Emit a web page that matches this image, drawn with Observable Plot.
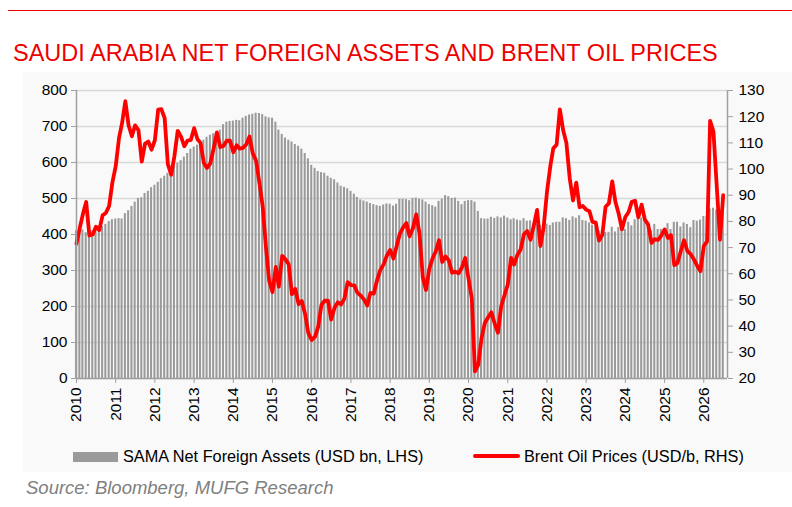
<!DOCTYPE html>
<html><head><meta charset="utf-8">
<script src="https://cdn.jsdelivr.net/npm/d3@7"></script>
<script src="https://cdn.jsdelivr.net/npm/@observablehq/plot@0.6"></script>
<style>
body{margin:0;background:#fff;font-family:"Liberation Sans",Arial,sans-serif;width:792px;height:507px;position:relative;overflow:hidden}
#rule{position:absolute;left:8px;top:10px;width:784px;height:0;border-top:1px solid #ee0000}
#title{position:absolute;left:13px;top:42px;font-size:23.5px;line-height:23.5px;color:#ee0000;white-space:nowrap}
#panel{position:absolute;left:23px;top:72px;width:769px;height:400px;background:#f9f9f9}
#chart{position:absolute;left:0;top:75px}
.lg{position:absolute;font-size:16.3px;line-height:16px;color:#000;white-space:nowrap;top:448px}
.sw{position:absolute}
#source{position:absolute;left:26px;top:479px;font-size:18.5px;line-height:18px;font-style:italic;color:#808080;white-space:nowrap}
</style></head><body>
<div id="rule"></div>
<div id="title">SAUDI ARABIA NET FOREIGN ASSETS AND BRENT OIL PRICES</div>
<div id="panel"></div>
<div id="chart"></div>
<div class="sw" style="left:73px;top:452px;width:45px;height:10px;background:#9a9a9a"></div>
<div class="lg" style="left:123px">SAMA Net Foreign Assets (USD bn, LHS)</div>
<div class="sw" style="left:473px;top:454px;width:47px;height:4px;background:#ff0000;border-radius:2px"></div>
<div class="lg" style="left:524px">Brent Oil Prices (USD/b, RHS)</div>
<div id="source">Source: Bloomberg, MUFG Research</div>
<script>
// Monthly data, Jan 2010 .. Jul 2026
const nfa = [
 410,415,413,405,408,410,408,415,422,428,436,441,
 443,444,443,458,466,478,490,500,502,514,520,530,
 537,545,555,562,570,578,590,598,605,615,625,637,
 643,648,655,662,670,676,680,684,690,705,712,714,
 715,717,716,723,728,732,734,737,736,733,727,724,
 723,712,690,678,668,662,657,650,645,637,625,610,
 592,584,575,572,570,562,556,552,543,534,531,527,
 520,512,503,496,493,490,486,483,480,478,482,485,
 484,479,484,498,498,497,494,500,501,498,496,490,
 483,480,476,492,498,508,505,500,501,492,483,492,
 494,494,490,464,444,443,443,448,445,449,446,451,
 446,441,444,440,438,444,437,438,430,428,425,428,
 429,425,432,434,434,446,444,439,449,445,452,439,
 437,432,426,423,409,406,406,406,420,407,419,420,
 414,434,424,441,446,446,437,432,411,428,414,414,
 409,430,414,434,434,421,432,428,419,439,437,440,
 450,450,471,473,468,468,466
];
const brent = [
 71.5,77.6,82.7,87.4,74.6,75.0,78.0,76.7,82.3,83.2,85.9,94.8,
 101.0,111.8,117.4,125.9,116.7,112.5,116.7,114.9,102.8,109.6,110.5,107.4,
 111.0,122.7,122.9,119.5,101.9,97.8,104.9,114.6,112.4,108.7,110.9,111.1,
 115.6,111.4,110.0,102.4,100.4,102.2,107.7,114.0,108.4,108.8,110.8,110.8,
 106.4,109.1,107.8,108.1,109.4,112.4,106.0,103.2,94.7,85.9,70.2,57.3,
 53.0,62.6,55.1,66.8,65.6,63.6,52.2,54.2,48.4,49.6,44.6,37.3,
 34.7,36.0,39.6,48.1,49.7,49.7,42.5,47.0,49.1,48.3,50.5,56.8,
 55.7,55.6,52.8,51.7,50.3,47.9,52.7,52.4,57.5,61.4,63.6,66.9,
 69.1,65.8,70.3,75.2,77.6,79.4,74.3,77.4,82.7,75.5,58.7,53.8,
 61.9,66.0,68.4,72.8,64.5,66.6,65.2,60.4,60.8,60.2,62.4,66.0,
 58.2,50.5,22.7,25.3,35.3,41.2,43.3,45.3,41.0,37.5,47.6,51.8,
 55.9,66.1,63.5,67.3,69.3,75.1,76.3,73.0,78.5,84.4,70.6,77.8,
 91.2,101.0,107.9,109.3,122.8,114.8,110.0,96.5,88.0,94.8,85.4,85.9,
 84.5,83.9,79.8,79.5,72.7,74.9,85.6,86.9,95.3,87.4,82.8,77.0,
 81.7,83.6,87.5,87.9,81.6,86.4,80.7,78.8,71.8,73.2,72.9,74.6,
 76.9,73.7,74.8,63.3,64.1,68.7,72.8,68.7,67.5,65.5,63.0,61.0,
 70.6,72.4,118.4,114.3,94.0,73.0,90.0
];
const startYear = 2010;
const leftTicks = [0,100,200,300,400,500,600,700,800];
const rightTicks = [20,30,40,50,60,70,80,90,100,110,120,130];
const yearTicks = d3.range(2010, 2027);

const rows = nfa.map((v, i) => ({date: new Date(Date.UTC(startYear, i, 1)), nfa: v, brent: brent[i]}));
const rMin = 20, rMax = 130, lMax = 800;
const toLeft = v => (v - rMin) * lMax / (rMax - rMin);
const fromLeft = v => Math.round(v * (rMax - rMin) / lMax + rMin);
const xStart = new Date(Date.UTC(2010, 0, 1));
const xEnd = new Date(Date.UTC(2026, 7, 10));
const axisColor = "#a0a0a0";

const chart = Plot.plot({
  width: 792, height: 360,
  marginLeft: 76, marginRight: 65, marginTop: 15, marginBottom: 57,
  x: {type: "utc", domain: [xStart, xEnd]},
  y: {domain: [0, lMax]},
  style: {fontFamily: '"Liberation Sans", Arial, sans-serif', fontSize: "15px", color: "#000", background: "transparent", overflow: "visible"},
  marks: [
    Plot.gridY(leftTicks, {stroke: "#d9d9d9", strokeOpacity: 1, strokeWidth: 1.5}),
    Plot.rectY(rows, {x1: d => d3.utcDay.offset(d.date, -9), x2: d => d3.utcDay.offset(d.date, 10), y: "nfa", fill: "#9a9a9a"}),
    Plot.lineY(rows, {x: "date", y: d => toLeft(d.brent), stroke: "#ff0000", strokeWidth: 3.8, strokeLinejoin: "round"}),
    Plot.ruleY([0], {stroke: axisColor, strokeWidth: 1.5}),
    Plot.ruleX([xStart], {stroke: axisColor, strokeWidth: 1.5}),
    Plot.ruleX([xEnd], {stroke: axisColor, strokeWidth: 1.5}),
    Plot.axisY(leftTicks, {anchor: "left", tickSize: 5, tickPadding: 4, stroke: axisColor, fill: "#000", label: null, fontSize: 15.5}),
    Plot.axisY(rightTicks.map(toLeft), {anchor: "right", tickSize: 5, tickPadding: 6, stroke: axisColor, fill: "#000", tickFormat: fromLeft, label: null, fontSize: 15.5}),
    Plot.axisX(yearTicks.map(y => new Date(Date.UTC(y, 0, 1))), {tickRotate: -90, tickFormat: d => String(d.getUTCFullYear()), tickSize: 5, tickPadding: 4, stroke: axisColor, fill: "#000", label: null, fontSize: 15.5})
  ]
});
document.getElementById("chart").appendChild(chart);
</script>
</body></html>
